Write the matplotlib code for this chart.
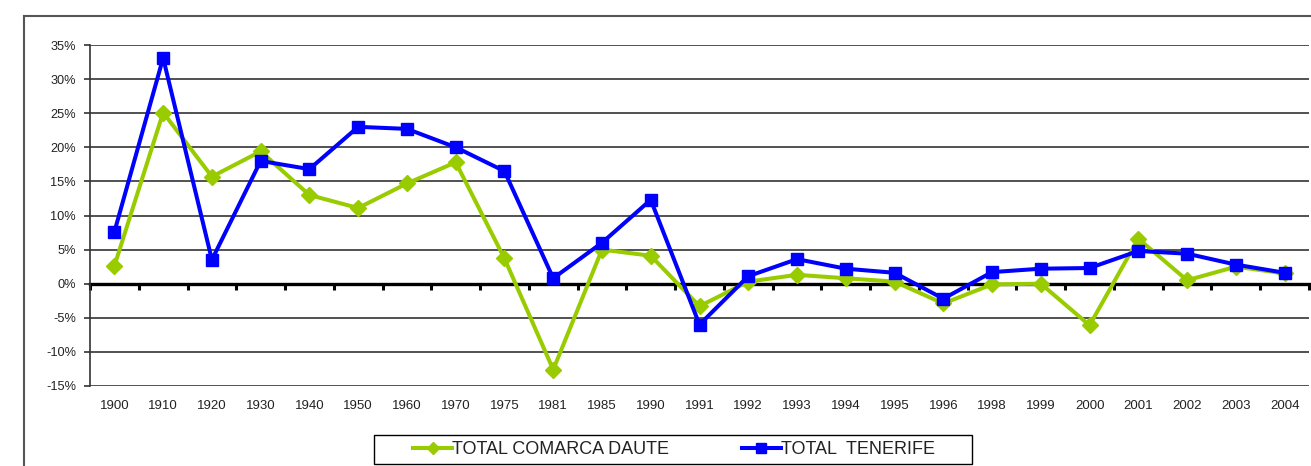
import matplotlib
matplotlib.use("Agg")
import matplotlib.pyplot as plt
from matplotlib.lines import Line2D
from matplotlib.patches import Rectangle
from matplotlib.ticker import FuncFormatter, FixedLocator

years = ["1900", "1910", "1920", "1930", "1940", "1950", "1960", "1970", "1975", "1981",
         "1985", "1990", "1991", "1992", "1993", "1994", "1995", "1996", "1998", "1999",
         "2000", "2001", "2002", "2003", "2004"]
daute = [2.6, 25.1, 15.7, 19.4, 13.0, 11.1, 14.7, 17.8, 3.7, -12.6,
         5.0, 4.1, -3.3, 0.3, 1.3, 0.8, 0.3, -2.9, -0.1, 0.0,
         -6.1, 6.6, 0.5, 2.5, 1.5]
tenerife = [7.6, 33.1, 3.5, 18.0, 16.8, 23.0, 22.7, 20.0, 16.5, 0.8,
            6.0, 12.3, -6.0, 1.1, 3.6, 2.2, 1.6, -2.2, 1.7, 2.2,
            2.3, 4.8, 4.4, 2.8, 1.6]
yticks = [-15, -10, -5, 0, 5, 10, 15, 20, 25, 30, 35]

plt.rcParams['font.family'] = ['Liberation Sans', 'DejaVu Sans']

W, H = 1311, 466
fig = plt.figure(figsize=(W / 100, H / 100), dpi=100)
ax = fig.add_axes([90 / W, 1 - 386 / H, 1219 / W, (386 - 45) / H])

x = list(range(len(years)))
green = "#99CC00"
blue = "#0000FF"

for v in yticks:
    if v != 0:
        ax.axhline(v, color="#333333", lw=1.2, zorder=1)

ax.plot(x, daute, color=green, lw=2.9, marker="D", ms=8, mec=green, mfc=green,
        label="TOTAL COMARCA DAUTE", zorder=3)
ax.plot(x, tenerife, color=blue, lw=2.9, marker="s", ms=8.5, mec=blue, mfc=blue,
        label="TOTAL  TENERIFE", zorder=4)

ax.set_xlim(-0.5, len(years) - 0.5)
ax.set_ylim(-15, 35)
ax.set_yticks(yticks)
ax.yaxis.set_major_formatter(FuncFormatter(lambda v, p: f"{int(v)}%"))
ax.tick_params(axis="y", direction="out", length=4, width=1.2, color="#333333",
               labelsize=9.2, pad=6, labelcolor="#222222")

ax.set_xticks(x)
ax.set_xticklabels(years)
ax.tick_params(axis="x", length=0, labelsize=9.5, pad=10, labelcolor="#222222")

for s in ["top", "right", "bottom"]:
    ax.spines[s].set_visible(False)
ax.spines["left"].set_color("#333333")
ax.spines["left"].set_linewidth(1.2)

# zero axis with category boundary ticks
sec = ax.secondary_xaxis(15 / 50)
sec.spines["bottom"].set_linewidth(2.4)
sec.spines["bottom"].set_color("black")
sec.xaxis.set_major_locator(FixedLocator([i - 0.5 for i in range(len(years) + 1)]))
sec.tick_params(axis="x", direction="out", length=4, width=2.2, color="black",
                labelbottom=False)
sec.set_zorder(2)

# chart border
fig.add_artist(Line2D([24 / W, 24 / W], [0, 1 - 16 / H], color="#555555", lw=1.5))
fig.add_artist(Line2D([24 / W, 1], [1 - 16 / H, 1 - 16 / H], color="#555555", lw=1.5))

# legend box
fig.add_artist(Rectangle((374 / W, 1 - 464 / H), (972 - 374) / W, 29 / H,
                         transform=fig.transFigure, fill=False, edgecolor="black", lw=1.0))
leg = fig.legend(loc="center", bbox_to_anchor=(674 / W, 1 - 449.5 / H), ncol=2,
                 frameon=False, fontsize=13, handlelength=2.2, markerscale=0.8,
                 columnspacing=4.0, handletextpad=0.0, borderpad=0.2)
for t in leg.get_texts():
    t.set_color("#222222")

fig.savefig("out.png", dpi=100)
